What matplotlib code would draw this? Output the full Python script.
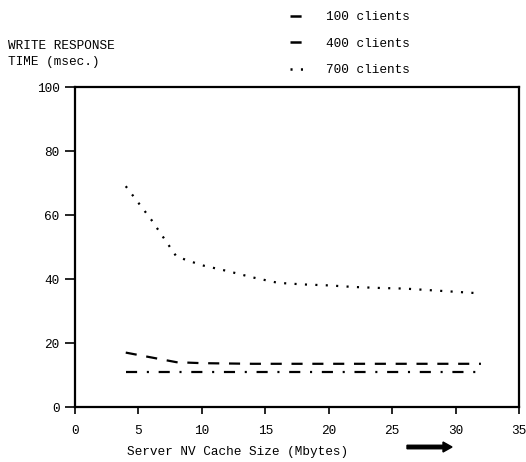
import matplotlib
matplotlib.use("Agg")
import matplotlib.pyplot as plt
from matplotlib.lines import Line2D

plt.rcParams['font.family'] = ['Liberation Mono', 'DejaVu Sans Mono']
plt.rcParams['lines.scale_dashes'] = False

# cache size (Mbytes)
cache_x = [4, 6, 8, 10, 12, 14, 16, 18, 20, 22, 24, 26, 28, 30, 32]
# write response time (msec.)
resp_100 = [11, 11, 11, 11, 11, 11, 11, 11, 11, 11, 11, 11, 11, 11, 11]
resp_400 = [17, 15.5, 14, 13.7, 13.6, 13.5, 13.5, 13.5, 13.5, 13.5, 13.5, 13.5, 13.5, 13.5, 13.5]
resp_700 = [69, 58.6, 47, 44.3, 42.5, 40.5, 38.8, 38.3, 38, 37.5, 37.2, 37, 36.5, 36, 35.5]

labels = ['100 clients', '400 clients', '700 clients']
styles = [(0, (8, 7, 1.5, 7)), (0, (8, 7)), (0, (1.5, 6))]

fs = 9.2

fig = plt.figure(figsize=(5.26, 4.62), dpi=100)
ax = fig.add_axes([75 / 526, 1 - 407 / 462, 444 / 526, 320 / 462])

series = [resp_100, resp_400, resp_700]
handles = []
for ys, ls, lab in zip(series, styles, labels):
    ax.plot(cache_x, ys, color='black', linestyle=ls, linewidth=1.6, label=lab)
    handles.append(Line2D([], [], color='black', linestyle=ls, linewidth=1.8))

ax.set_xlim(0, 35)
ax.set_ylim(0, 100)
ax.set_xticks(range(0, 36, 5))
ax.set_yticks(range(0, 101, 20))
ax.tick_params(axis='both', labelsize=fs, direction='out', width=1.2)
ax.tick_params(axis='x', length=5, pad=8)
ax.tick_params(axis='y', length=7, pad=4)
for sp in ax.spines.values():
    sp.set_linewidth(1.6)

fig.legend(handles, labels, loc='upper left', bbox_to_anchor=(290 / 526, 1 - 11 / 462),
           frameon=False, fontsize=fs, handlelength=1.1, handletextpad=1.7,
           labelspacing=1.15, borderpad=0, borderaxespad=0)

fig.text(8 / 526, 1 - 54 / 462, 'WRITE RESPONSE\nTIME (msec.)', fontsize=fs,
         ha='left', va='center', linespacing=1.45)
fig.text(127 / 526, 1 - 452 / 462, 'Server NV Cache Size (Mbytes)', fontsize=fs,
         ha='left', va='center')
fig.patches.append(matplotlib.patches.FancyArrow(
    407 / 526, 1 - 447 / 462, 36 / 526, 0, width=3.5 / 462, head_width=10 / 462,
    head_length=9 / 526, length_includes_head=False, color='black',
    transform=fig.transFigure, figure=fig))

fig.savefig('out.png', dpi=100)
